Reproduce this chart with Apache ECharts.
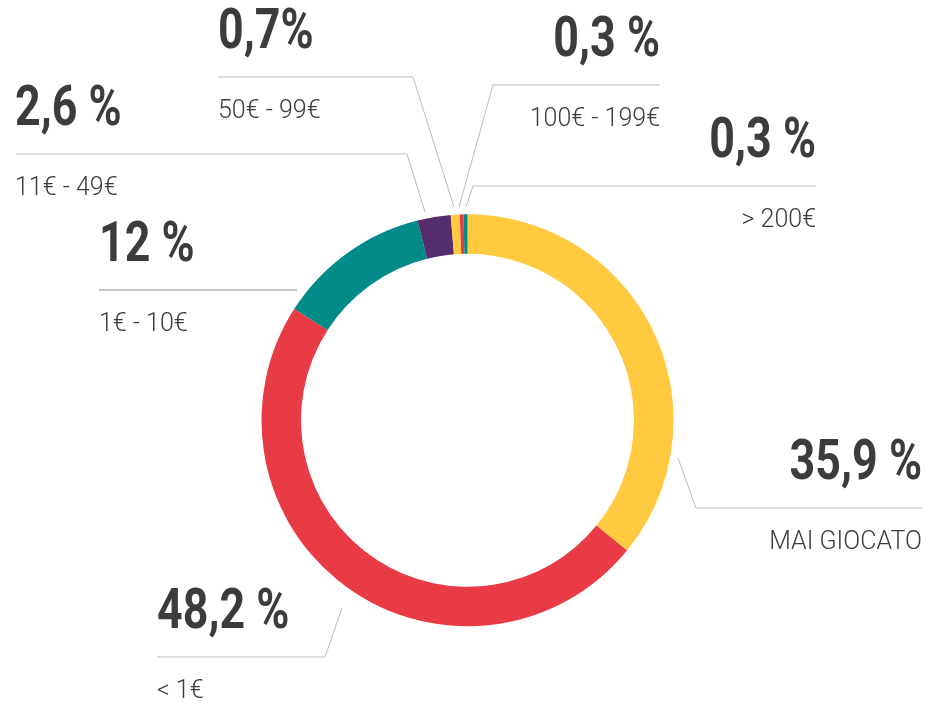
<!DOCTYPE html>
<html>
<head>
<meta charset="utf-8">
<script src="https://cdn.jsdelivr.net/npm/echarts@6/dist/echarts.min.js"></script>
<style>
  html, body { margin: 0; padding: 0; background: #ffffff; }
  #chart { width: 926px; height: 704px; }
</style>
</head>
<body>
<div id="chart"></div>
<script>
// fasce di spesa, in senso orario partendo dall'alto
const categories = ['MAI GIOCATO', '< 1€', '1€ - 10€', '11€ - 49€', '50€ - 99€', '100€ - 199€', '> 200€']
const values = [35.9, 48.2, 12, 2.6, 0.7, 0.3, 0.3]
const percentLabels = ['35,9 %', '48,2 %', '12 %', '2,6 %', '0,7%', '0,3 %', '0,3 %']
const colors = ['#ffca40', '#e83b45', '#008a88', '#562d6e', '#ffca40', '#e83b45', '#008a88']

// posizione delle etichette e delle linee guida (pixel)
const guides = [
  { align: 'right', textX: 922, lineY: 508, start: [678, 458], elbow: [696, 508], end: [922, 508] },
  { align: 'left', textX: 157, lineY: 657, start: [342, 608], elbow: [325, 657], end: [157, 657] },
  { align: 'left', textX: 99, lineY: 290, start: [297, 290], elbow: [297, 290], end: [99, 290] },
  { align: 'left', textX: 15, lineY: 154, start: [425, 212], elbow: [407, 154], end: [16, 154] },
  { align: 'left', textX: 218, lineY: 77, start: [454, 207], elbow: [413, 77], end: [218, 77] },
  { align: 'right', textX: 660, lineY: 85, start: [459, 207], elbow: [493, 85], end: [660, 85] },
  { align: 'right', textX: 816, lineY: 186, start: [466, 207], elbow: [473, 186], end: [816, 186] }
]

const chart = echarts.init(document.getElementById('chart'))

// i numeri grandi: testo stretto (font condensato simulato con scaleX)
const bigNumbers = percentLabels.map(function (txt, i) {
  const g = guides[i]
  return {
    type: 'text',
    x: g.textX,
    y: g.lineY - 43,
    scaleX: 0.8,
    silent: true,
    style: {
      text: txt,
      x: 0,
      y: 0,
      align: g.align,
      verticalAlign: 'middle',
      font: 'bold 56px Roboto, sans-serif',
      fill: '#3c3c3c'
    }
  }
})

const option = {
  backgroundColor: '#ffffff',
  animation: false,
  graphic: { elements: bigNumbers },
  series: [
    {
      type: 'pie',
      center: [467.5, 420.3],
      radius: [166.5, 206],
      startAngle: 90,
      avoidLabelOverlap: false,
      emphasis: { disabled: true },
      itemStyle: { borderWidth: 0 },
      label: {
        show: true,
        position: 'outside',
        formatter: '{b}',
        fontFamily: 'Roboto, sans-serif',
        fontWeight: 300,
        fontSize: 25,
        color: '#3c3c3c'
      },
      labelLine: {
        show: true,
        lineStyle: { color: '#bdbdbd', width: 1 }
      },
      labelLayout: function (params) {
        const g = guides[params.dataIndex]
        return {
          x: g.textX,
          y: g.lineY + 35,
          align: g.align,
          verticalAlign: 'middle',
          labelLinePoints: [g.start, g.elbow, g.end]
        }
      },
      data: categories.map(function (name, i) {
        const item = { name: name, value: values[i], itemStyle: { color: colors[i] } }
        if (i === 2) item.labelLine = { lineStyle: { color: '#888888' } }
        return item
      })
    }
  ]
}

chart.setOption(option)
</script>
</body>
</html>
